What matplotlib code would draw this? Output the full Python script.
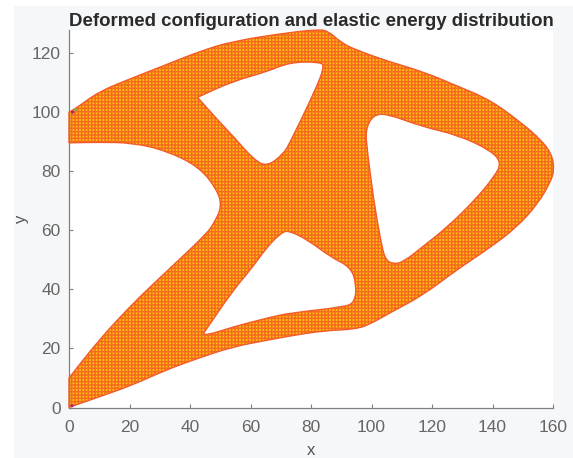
import matplotlib
matplotlib.use('Agg')
import matplotlib.pyplot as plt
from matplotlib.patches import PathPatch, Rectangle
from matplotlib.path import Path

plt.rcParams['font.family'] = ['Liberation Sans', 'DejaVu Sans']
plt.rcParams['hatch.linewidth'] = 1.05

# outline of the deformed body (x, y in data units)
# a repeated point marks a sharp corner
outer_x = [0, 0, 4, 10, 21, 32, 43, 54, 65.5, 73, 84, 95, 100, 106, 117, 128, 139, 148, 155, 159, 160.5,
           159.5, 156, 150, 139.5, 128, 117, 106, 95, 90, 85.5, 82, 73, 54, 43, 32, 21, 10, 2.6, 0, 0,
           0, 0, 10, 21, 32, 43, 49, 50.5, 48, 45.6, 37, 27, 20, 10, 0, 0]
outer_y = [0, 0, 1.5, 3.6, 7.6, 12.7, 16.8, 20.5, 22.8, 24.2, 26, 26.5, 28.5, 32, 38, 46.5, 54, 61, 69, 76, 80.5,
           86, 90.6, 96, 104, 109, 113.7, 117, 121, 123.5, 127.6, 127.9, 127, 124, 120.5, 116, 111.6, 107, 101.5, 100, 100,
           89.6, 89.6, 89.8, 89.6, 87, 81.5, 73.7, 68, 62.5, 59, 50.6, 41, 34, 23, 10, 10]

hole1_x = [42.5, 42.5, 54, 65.5, 73, 83, 84.5, 81, 73, 71, 65.5, 61, 54.4, 49]
hole1_y = [105, 105, 110.4, 113.7, 116.9, 117, 115.4, 106.5, 89.6, 86, 81.5, 84, 91.7, 97.5]

hole2_x = [98, 100.5, 105, 117, 128.4, 139.5, 143, 140.5, 134, 125, 117, 110.7, 107.4, 104.5, 103, 100.7, 98.6]
hole2_y = [94, 99, 99.5, 95, 92.3, 87, 82.8, 78, 70, 61, 54.5, 49.4, 48.5, 50, 56.7, 70.3, 87]

hole3_x = [44.4, 44.4, 54.3, 60, 65.5, 70, 72.5, 79, 86.4, 93, 95, 94.5, 90.7, 73, 65.5, 54.3, 45.7]
hole3_y = [25, 25, 39.8, 46.6, 54.4, 59, 60, 56.7, 51, 47.6, 42, 35.5, 34, 32, 30.3, 27.3, 24.5]

# odd coloured nodes at the clamped corners
spot_x = [1.2, 2.2, 1]
spot_y = [100, 100.8, 0.6]
spot_colors = ['#a0208c', '#7fb040', '#b02080']

xticks = [0, 20, 40, 60, 80, 100, 120, 140, 160]
yticks = [0, 20, 40, 60, 80, 100, 120]


def body_path():
    # quadratic segments between the midpoints so the outline stays smooth
    verts = []
    codes = []
    for xs, ys in [(outer_x, outer_y), (hole1_x, hole1_y), (hole2_x, hole2_y), (hole3_x, hole3_y)]:
        pts = list(zip(xs, ys))
        n = len(pts)
        mids = [((pts[i][0] + pts[(i + 1) % n][0]) / 2, (pts[i][1] + pts[(i + 1) % n][1]) / 2) for i in range(n)]
        verts.append(mids[-1])
        codes.append(Path.MOVETO)
        for i in range(n):
            verts += [pts[i], mids[i]]
            codes += [Path.CURVE3, Path.CURVE3]
        verts.append(mids[-1])
        codes.append(Path.CLOSEPOLY)
    return Path(verts, codes)


fig = plt.figure(figsize=(5.73, 4.58), dpi=100, facecolor='white')
fig.add_artist(Rectangle((14 / 573, 0), 1, 1 - 6 / 458, transform=fig.transFigure,
                         facecolor='#f6f7f9', edgecolor='none', zorder=-5))
ax = fig.add_axes([69 / 573, (458 - 407.5) / 458, 484 / 573, 377.5 / 458])

ax.add_patch(PathPatch(body_path(), facecolor='#ffc20f', edgecolor='#f46a1e', hatch='+++++', lw=0, zorder=2,
                       clip_on=False))
ax.add_patch(PathPatch(body_path(), facecolor='none', edgecolor='#f25c2a', lw=1.0, zorder=4, clip_on=False))
ax.scatter(spot_x, spot_y, s=5, c=spot_colors, linewidths=0, zorder=5)

ax.set_xlim(0, 160)
ax.set_ylim(0, 127.8)
ax.set_xticks(xticks)
ax.set_yticks(yticks)
for s in ['top', 'right']:
    ax.spines[s].set_visible(False)
for s in ['left', 'bottom']:
    ax.spines[s].set_color('#808080')
    ax.spines[s].set_linewidth(0.9)
ax.tick_params(axis='both', direction='in', length=3, width=0.8, color='#808080',
               labelcolor='#666666', labelsize=12.5, pad=6)
ax.tick_params(axis='x', pad=9)
ax.set_xlabel('x', fontsize=12, color='#555555', labelpad=5.5)
ax.set_ylabel('y', fontsize=12, color='#555555', labelpad=2)
ax.set_title('Deformed configuration and elastic energy distribution', fontsize=13.4,
             fontweight='bold', color='#2a2a2a', pad=2)

fig.savefig('out.png', dpi=100)
